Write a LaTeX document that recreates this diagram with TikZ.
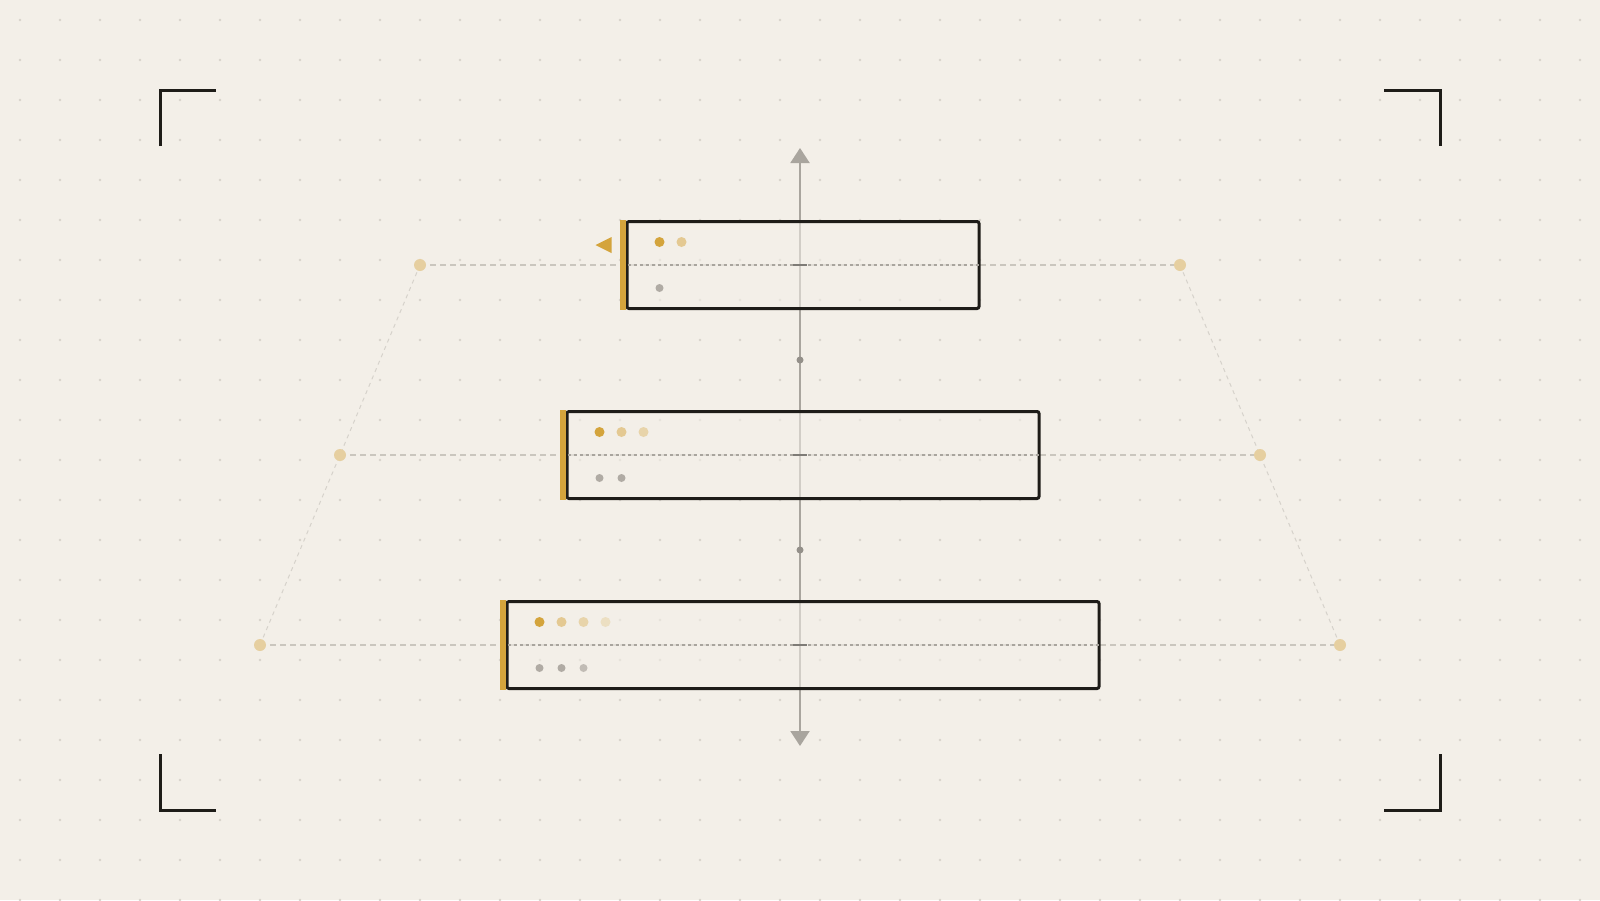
\documentclass[tikz,border=0pt]{standalone}
\usetikzlibrary{positioning,arrows.meta,calc}
\definecolor{paper}{HTML}{F3EFE8}
\definecolor{ink}{HTML}{1E1C18}
\definecolor{ochre}{HTML}{D4A43C}
\definecolor{ash}{HTML}{A9A59E}
\definecolor{stone}{HTML}{B0ABA4}
\definecolor{speck}{HTML}{D8D3CB}
\definecolor{guideline}{HTML}{CAC6BE}
\tikzset{
    x=1pt,
    y=-1pt,
    tier/.style = {
        draw=ink,
        fill=paper,
        fill opacity=0.55,
        shape=rectangle,
        minimum height=87pt,
        inner sep=0pt,
        line width=3pt,
        rounded corners=2pt
    },
    knot/.style = {
        shape=circle,
        fill=ochre!42!paper,
        minimum size=12pt,
        inner sep=0pt
    },
    pip/.style = {
        shape=circle,
        fill=ash!85!ink,
        minimum size=7pt,
        inner sep=0pt
    },
    goldpip/.style = {
        shape=circle,
        minimum size=10pt,
        inner sep=0pt
    },
    graypip/.style = {
        shape=circle,
        minimum size=8pt,
        inner sep=0pt
    },
    guide/.style = {
        draw=guideline,
        line width=1.5pt,
        dash pattern=on 6pt off 4pt
    },
    slant/.style = {
        draw=guideline!70!paper,
        line width=1pt,
        dash pattern=on 4pt off 4pt
    },
    midline/.style = {
        draw=ash,
        line width=1.5pt,
        dash pattern=on 3pt off 3pt,
        shorten <=2pt,
        shorten >=2pt
    },
    tick/.style = {
        draw=ink!55!paper,
        line width=1.5pt
    },
    bracket/.style = {
        draw=ink,
        line width=3pt
    },
    axis/.style = {
        draw=ash,
        line width=2pt,
        {Triangle[width=19pt,length=15pt]}-{Triangle[width=19pt,length=15pt]}
    },
}

\begin{document}
\begin{tikzpicture}
    \fill[paper] (0,0) rectangle (1600,900);
    \useasboundingbox (0,0) rectangle (1600,900);
    \foreach \x in {20,60,...,1580}
        \foreach \y in {20,60,...,900}
            \fill[speck] (\x,\y) circle[radius=1.3pt];

    \draw[bracket] (160,146) -- (160,90) -- (216,90);
    \draw[bracket] (1384,90) -- (1440,90) -- (1440,146);
    \draw[bracket] (160,754) -- (160,810) -- (216,810);
    \draw[bracket] (1384,810) -- (1440,810) -- (1440,754);

    \coordinate (l1) at (420,265);
    \coordinate (l2) at (340,455);
    \coordinate (l3) at (260,645);
    \coordinate (r1) at (1180,265);
    \coordinate (r2) at (1260,455);
    \coordinate (r3) at (1340,645);
    \coordinate (axtop) at (800,148);
    \coordinate (axbot) at (800,746);

    \path[slant] (l1) -- (l2) -- (l3);
    \path[slant] (r1) -- (r2) -- (r3);
    \path[guide] (l1) -- (r1);
    \path[guide] (l2) -- (r2);
    \path[guide] (l3) -- (r3);
    \foreach \p in {l1,l2,l3,r1,r2,r3}
        \node[knot] at (\p) {};

    \path[axis] (axtop) -- (axbot);
    \node[pip] (m1) at (800,360) {};
    \node[pip] (m2) at (800,550) {};

    \node[tier, minimum width=352pt] (t1) at (803,265) {};
    \node[tier, minimum width=472pt] (t2) at (803,455) {};
    \node[tier, minimum width=592pt] (t3) at (803,645) {};

    \foreach \t in {t1,t2,t3} {
        \path[midline] (\t.west) -- (\t.east);
        \path[tick] ($(\t.center)+(-10,0)$) -- ++(14,0);
        \fill[ochre] ($(\t.north west)+(-6,0)$) rectangle (\t.south west);
    }

    \foreach \i/\c in {0/100,1/50}
        \node[goldpip, fill=ochre!\c!paper] at ($(t1.west)+(34+22*\i,-23)$) {};
    \foreach \i/\c in {0/100,1/50,2/36}
        \node[goldpip, fill=ochre!\c!paper] at ($(t2.west)+(34+22*\i,-23)$) {};
    \foreach \i/\c in {0/100,1/50,2/36,3/22}
        \node[goldpip, fill=ochre!\c!paper] at ($(t3.west)+(34+22*\i,-23)$) {};

    \foreach \i/\c in {0/100}
        \node[graypip, fill=stone!\c!paper] at ($(t1.west)+(34+22*\i,23)$) {};
    \foreach \i/\c in {0/100,1/100}
        \node[graypip, fill=stone!\c!paper] at ($(t2.west)+(34+22*\i,23)$) {};
    \foreach \i/\c in {0/100,1/100,2/75}
        \node[graypip, fill=stone!\c!paper] at ($(t3.west)+(34+22*\i,23)$) {};

    \fill[ochre] ($(t1.west)+(-30,-20)$) -- ++(16,8) -- ++(0,-16) -- cycle;
\end{tikzpicture}
\end{document}
